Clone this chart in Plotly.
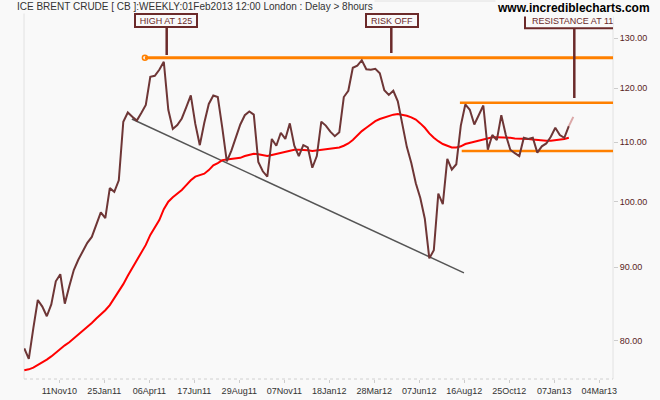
import plotly.graph_objects as go

# ---------------- data ----------------
price = [79.0, 77.7, 81.6, 85.4, 84.5, 83.2, 84.8, 88.0, 89.0, 84.9,
         87.3, 89.6, 91.1, 92.3, 93.6, 94.5, 96.3, 98.3, 97.4, 102.2,
         101.6, 103.5, 113.7, 115.4, 114.6, 113.9, 115.3, 116.8, 122.2, 122.4,
         123.6, 125.2, 115.9, 112.4, 113.1, 114.3, 116.4, 118.6, 113.3, 109.5,
         113.5, 117.0, 118.6, 118.3, 112.6, 106.7, 108.5, 111.0, 113.2, 114.9,
         115.6, 115.0, 106.6, 105.0, 104.1, 110.6, 109.4, 111.7, 110.6, 113.4,
         109.4, 107.6, 109.5, 109.1, 105.6, 107.6, 113.7, 113.0, 111.9, 111.1,
         111.8, 118.3, 119.5, 124.0, 124.4, 125.5, 123.7, 123.6, 123.8, 122.9,
         119.6, 118.7, 119.5, 117.5, 113.1, 109.2, 106.4, 103.0, 100.6, 97.3,
         91.3, 92.5, 101.3, 99.6, 107.1, 105.3, 106.2, 113.0, 116.9, 115.9,
         113.2, 114.9, 116.7, 108.7, 111.3, 110.4, 114.9, 111.3, 108.7, 108.1,
         107.6, 110.8, 110.6, 110.8, 108.2, 109.3, 109.8, 111.0, 112.6, 111.3,
         110.8, 112.9, 114.6]

moving_avg = [76.3, 76.4, 76.6, 76.9, 77.3, 77.6, 78.0, 78.5, 79.0, 79.4,
              79.8, 80.3, 80.7, 81.2, 81.7, 82.3, 82.9, 83.4, 84.0, 84.7,
              85.6, 86.5, 87.6, 88.8, 89.9, 91.2, 92.3, 93.3, 94.8, 96.0,
              97.1, 98.8, 100.0, 100.7, 101.3, 101.9, 102.7, 103.5, 104.1, 104.4,
              104.6, 105.2, 106.0, 106.4, 106.9, 107.0, 107.1, 107.2, 107.3, 107.6,
              107.8, 108.0, 107.9, 107.7, 107.6, 107.8, 108.0, 108.1, 108.4, 108.6,
              108.7, 108.7, 108.7, 108.6, 108.5, 108.6, 108.8, 108.8, 108.9, 109.0,
              109.1, 109.4, 109.8, 110.4, 111.2, 112.0, 112.6, 113.2, 113.8, 114.2,
              114.5, 114.8, 115.0, 115.1, 115.0, 114.8, 114.5, 114.1, 113.4, 112.6,
              111.6, 110.8, 110.2, 109.7, 109.4, 109.1, 109.1, 109.3, 109.7, 109.9,
              110.1, 110.4, 110.5, 110.7, 110.9, 110.9, 110.9, 110.8, 110.8, 110.7,
              110.7, 110.6, 110.6, 110.5, 110.4, 110.4, 110.3, 110.3, 110.4, 110.4,
              110.6, 110.8, None]

tick_labels = ["11Nov10", "25Jan11", "06Apr11", "17Jun11", "29Aug11", "07Nov11",
               "18Jan12", "28Mar12", "07Jun12", "16Aug12", "25Oct12", "07Jan13", "04Mar13"]
first_tick_week = 7.78
tick_step_weeks = 10

y_tick_values = [80, 90, 100, 110, 120, 130]
y_tick_labels = ["80.00", "90.00", "100.00", "110.00", "120.00", "130.00"]

level_values = [126.0, 117.2, 108.5]      # high, resistance, support
level_starts = [26.8, 96.8, 97.2]         # week index where each level starts
trend_x = [23.9, 97.7]
trend_y = [114.2, 89.2]

title_text = "ICE BRENT CRUDE [ CB ]:WEEKLY:01Feb2013 12:00 London : Delay > 8hours"
site_text = "www.incrediblecharts.com"
notes = ["HIGH AT 125", "RISK OFF", "RESISTANCE AT 11"]

weeks = list(range(len(price)))

# ---------------- layout geometry ----------------
W, H = 660, 400
L, R, T, B = 24, 47, 1, 21
PW, PH = W - L - R, H - T - B
X_RANGE = [-0.067, 130.82]
Y_RANGE = [1.87635, 2.13995]   # log10


def px_x(px):
    return (px - L) / PW


def px_y(py):
    return (H - B - py) / PH


def week_of_px(px):
    return X_RANGE[0] + (px - L) / PW * (X_RANGE[1] - X_RANGE[0])


def val_of_py(py):
    return 10 ** (Y_RANGE[1] - (py - T) / PH * (Y_RANGE[1] - Y_RANGE[0]))


MAROON = "#6b2a2a"
BG = "#f9f9f9"
ORANGE = "#ff8000"

fig = go.Figure()

# orange levels
for i, (lv, st) in enumerate(zip(level_values, level_starts)):
    fig.add_trace(go.Scatter(x=[st, X_RANGE[1] + 1], y=[lv, lv], mode="lines",
                             line=dict(color=ORANGE, width=3 if i == 0 else 2.5),
                             hoverinfo="skip", showlegend=False))
fig.add_trace(go.Scatter(x=[level_starts[0]], y=[level_values[0]], mode="markers",
                         marker=dict(symbol="circle-open", size=5, color=ORANGE,
                                     line=dict(width=1.5, color=ORANGE)),
                         showlegend=False, hoverinfo="skip"))

# trend line
fig.add_trace(go.Scatter(x=trend_x, y=trend_y, mode="lines",
                         line=dict(color="#555555", width=1.5),
                         showlegend=False, hoverinfo="skip"))

# moving average
fig.add_trace(go.Scatter(x=weeks, y=moving_avg, mode="lines",
                         line=dict(color="#ff0000", width=2),
                         showlegend=False))

# price
fig.add_trace(go.Scatter(x=weeks[:-1], y=price[:-1], mode="lines",
                         line=dict(color="#6e3636", width=2),
                         showlegend=False))
fig.add_trace(go.Scatter(x=weeks[-2:], y=price[-2:], mode="lines",
                         line=dict(color="#dba8a8", width=2),
                         showlegend=False))

shapes = []
# frame
frame = dict(color="#e2e2e2", width=1)
shapes.append(dict(type="line", xref="paper", yref="paper", x0=0, x1=0, y0=0, y1=1, line=frame, layer="below"))
shapes.append(dict(type="line", xref="paper", yref="paper", x0=1, x1=1, y0=0, y1=1, line=frame, layer="below"))
shapes.append(dict(type="line", xref="paper", yref="paper", x0=0, x1=1, y0=1, y1=1, line=frame, layer="below"))
shapes.append(dict(type="line", xref="paper", yref="paper", x0=0, x1=1, y0=0, y1=0,
                   line=dict(color="#d0d0d0", width=1, dash="dot"), layer="below"))

# connectors
for cx, cy in [(166.7, 55), (391.3, 53), (574.3, 98)]:
    shapes.append(dict(type="line", xref="x", yref="paper",
                       x0=week_of_px(cx), x1=week_of_px(cx), y0=px_y(28), y1=px_y(cy),
                       line=dict(color=MAROON, width=2.5)))

# clipped resistance box
shapes.append(dict(type="rect", xref="x", yref="y",
                   x0=week_of_px(525), x1=X_RANGE[1] + 5,
                   y0=val_of_py(28.3), y1=val_of_py(13.3),
                   line=dict(color=MAROON, width=2), fillcolor=BG))

annotations = [
    dict(text=title_text, x=px_x(15), y=px_y(6.5), xref="paper", yref="paper",
         xanchor="left", yanchor="middle", showarrow=False, bgcolor=BG,
         font=dict(family="Liberation Sans, Arial", size=10, color="#333333")),
    dict(text="<b>" + site_text + "</b>", x=px_x(652), y=px_y(7.5), xref="paper", yref="paper",
         xanchor="right", yanchor="middle", showarrow=False, bgcolor=BG,
         font=dict(family="Liberation Sans, Arial", size=12, color="#000000")),
    dict(text=notes[0], x=px_x(166.3), y=px_y(20.8), xref="paper", yref="paper",
         xanchor="center", yanchor="middle", showarrow=False, bgcolor=BG,
         width=60, height=11, borderpad=0, borderwidth=2, bordercolor=MAROON,
         font=dict(family="Liberation Sans, Arial", size=9, color=MAROON)),
    dict(text=notes[1], x=px_x(392.2), y=px_y(20.8), xref="paper", yref="paper",
         xanchor="center", yanchor="middle", showarrow=False, bgcolor=BG,
         width=50, height=11, borderpad=0, borderwidth=2, bordercolor=MAROON,
         font=dict(family="Liberation Sans, Arial", size=9, color=MAROON)),
    dict(text=notes[2], x=px_x(530), y=px_y(20.8), xref="paper", yref="paper",
         xanchor="left", yanchor="middle", showarrow=False,
         font=dict(family="Liberation Sans, Arial", size=9, color=MAROON)),
]

fig.update_layout(
    width=W, height=H,
    margin=dict(l=L, r=R, t=T, b=B, pad=0),
    paper_bgcolor=BG, plot_bgcolor=BG,
    showlegend=False,
    shapes=shapes, annotations=annotations,
    xaxis=dict(range=X_RANGE, showgrid=False, zeroline=False, showline=False,
               tickmode="array",
               tickvals=[first_tick_week + tick_step_weeks * k for k in range(len(tick_labels))],
               ticktext=tick_labels, ticks="outside", ticklen=3, tickcolor="#cccccc",
               tickfont=dict(family="Liberation Sans, Arial", size=9, color="#333333")),
    yaxis=dict(type="log", range=Y_RANGE, side="right", showgrid=False, zeroline=False,
               showline=False, tickmode="array", tickvals=y_tick_values, ticktext=y_tick_labels,
               ticks="outside", ticklen=4, tickcolor="#cccccc",
               tickfont=dict(family="Liberation Sans, Arial", size=9, color="#5a1e1e")),
)

fig.write_html("out.html",
               config={"displayModeBar": False},
               post_script="document.body.style.margin='0px';document.body.style.background='#f9f9f9';")
